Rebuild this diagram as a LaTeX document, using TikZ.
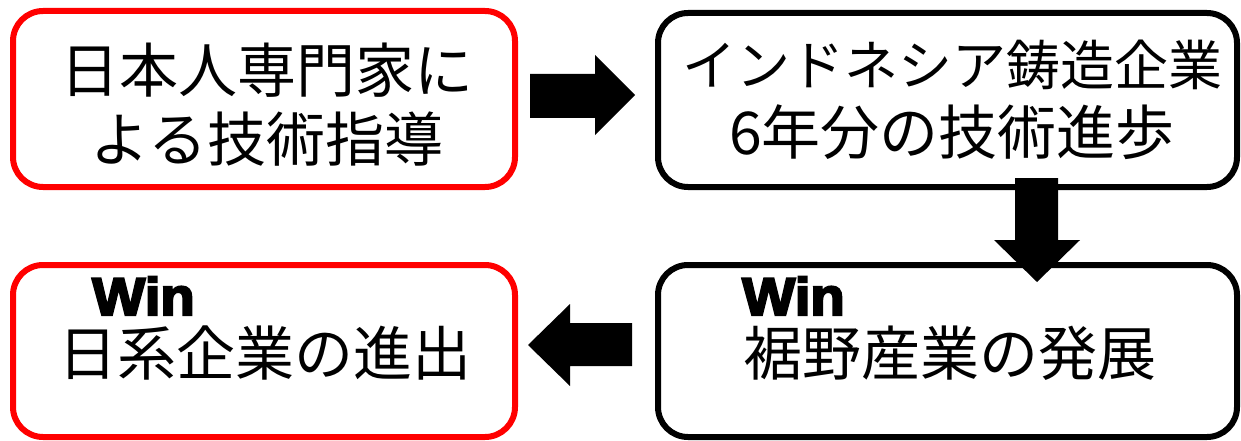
\documentclass[tikz,border=0pt]{standalone}
\usepackage{fontspec}
\newfontfamily\jp{Noto Sans CJK JP}
\newfontfamily\winfont[UprightFont={* Bold},FakeBold=4]{Liberation Sans}
\begin{document}
\begin{tikzpicture}[x=1pt,y=-1pt,
  box/.style={draw, line width=6pt, rounded corners=30pt, inner sep=0pt},
  redbox/.style={box, draw=red},
  blackbox/.style={box, draw=black},
  txt/.style={font=\jp\fontsize{59}{69}\selectfont, align=center, inner sep=0pt},
  jpline/.style={txt, anchor=base, text height=0.7em, text depth=0.1em},
  win/.style={font=\winfont\fontsize{53}{53}\selectfont, inner sep=0pt, anchor=base west, xscale=1.06},
  blockarrow/.style={fill=black, draw=none}]
\useasboundingbox (0,0) rectangle (1241,441);
% boxes
\node[redbox, minimum width=502pt, minimum height=176pt] (b1) at (264,99) {};
\node[blackbox, minimum width=579pt, minimum height=174pt] (b2) at (947.5,100) {};
\node[redbox, minimum width=502pt, minimum height=172pt] (b3) at (264,351) {};
\node[blackbox, minimum width=579pt, minimum height=172pt] (b4) at (947.5,351) {};
% texts
\node[txt] (t1) at (267,105) {日本人専門家に\\よる技術指導};
\node[txt] (t2) at (952,100) {{\fontsize{54}{69}\selectfont インドネシア鋳造企業}\\6年分の技術進歩};
\node[win] (w3) at (92,315) {Win};
\node[jpline] (t3) at (265,375) {日系企業の進出};
\node[win] (w4) at (742,315) {Win};
\node[jpline] (t4) at (950,375) {裾野産業の発展};
% block arrows
\fill[blockarrow] (530,74) -- (595,74) -- (595,55) -- (635,95) -- (595,135) -- (595,118) -- (530,118) -- cycle;
\fill[blockarrow] (1015,178) -- (1058,178) -- (1058,240) -- (1080,240) -- (1037,282) -- (994,240) -- (1015,240) -- cycle;
\fill[blockarrow] (632,323) -- (570,323) -- (570,304) -- (528,345) -- (570,386) -- (570,366) -- (632,366) -- cycle;
\end{tikzpicture}
\end{document}
